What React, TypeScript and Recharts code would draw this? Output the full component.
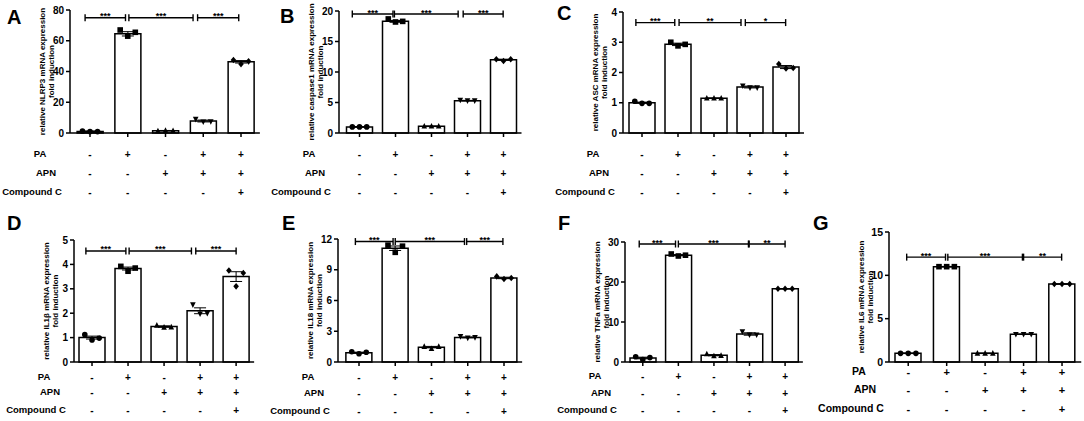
import React from "react";
import { Bar, ComposedChart, ErrorBar, Scatter, XAxis, YAxis } from "recharts";

// treatment grid under every panel
const groups = ["ctrl", "PA", "APN", "PA+APN", "PA+APN+CC"];
const paRow = ["-", "+", "-", "+", "+"];
const apnRow = ["-", "-", "+", "+", "+"];
const ccRow = ["-", "-", "-", "-", "+"];
const rowNames = ["PA", "APN", "Compound C"];

// A – NLRP3
const nlrp3Mean = [1.0, 64.5, 1.5, 7.8, 46.3];
const nlrp3Sem = [0.3, 1.4, 0.15, 0.6, 0.8];
const nlrp3Reps = [[1.2, 0.9, 0.9], [67, 63, 65.5], [1.3, 1.6, 1.5], [9.0, 7.3, 7.5], [47.5, 44.8, 46.6]];
// B – caspase1
const casp1Mean = [1.0, 18.3, 1.1, 5.3, 12.0];
const casp1Sem = [0.05, 0.15, 0.05, 0.05, 0.1];
const casp1Reps = [[1.0, 1.0, 1.0], [18.7, 18.2, 18.3], [1.1, 1.1, 1.1], [5.4, 5.3, 5.3], [12.1, 11.8, 12.1]];
// C – ASC
const ascMean = [1.0, 2.93, 1.15, 1.52, 2.18];
const ascSem = [0.02, 0.04, 0.01, 0.03, 0.05];
const ascReps = [[1.05, 0.98, 0.98], [3.0, 2.88, 2.93], [1.15, 1.15, 1.15], [1.56, 1.5, 1.5], [2.28, 2.13, 2.15]];
// D – IL1β
const il1bMean = [1.0, 3.83, 1.45, 2.1, 3.5];
const il1bSem = [0.06, 0.06, 0.03, 0.12, 0.2];
const il1bReps = [[1.12, 0.9, 0.98], [3.92, 3.72, 3.85], [1.5, 1.42, 1.43], [2.35, 1.98, 2.0], [3.75, 3.1, 3.65]];
// E – IL18
const il18Mean = [0.9, 11.1, 1.45, 2.4, 8.2];
const il18Sem = [0.06, 0.22, 0.07, 0.04, 0.07];
const il18Reps = [[1.0, 0.8, 0.95], [11.4, 10.7, 11.3], [1.5, 1.3, 1.5], [2.5, 2.35, 2.4], [8.35, 8.1, 8.2]];
// F – TNFa
const tnfMean = [1.0, 26.7, 1.7, 7.0, 18.3];
const tnfSem = [0.2, 0.15, 0.15, 0.3, 0.05];
const tnfReps = [[1.3, 0.6, 1.1], [27.0, 26.5, 26.7], [2.0, 1.5, 1.6], [7.6, 6.8, 6.8], [18.3, 18.3, 18.3]];
// G – IL6
const il6Mean = [1.0, 11.0, 1.0, 3.2, 9.0];
const il6Sem = [0.03, 0.03, 0.03, 0.03, 0.03];
const il6Reps = [[1.0, 1.0, 1.0], [11.0, 11.0, 11.0], [1.0, 1.0, 1.0], [3.2, 3.2, 3.2], [9.0, 9.0, 9.0]];

const FONT = 'Arial, "Liberation Sans", Helvetica, sans-serif';
const jitter = [-0.2, 0, 0.2];

type Panel = {
  letter: string;
  gene: string;
  mean: number[];
  sem: number[];
  reps: number[][];
  yMax: number;
  yTicks: number[];
  stars: string[];
  bracketY: number;
  brackets: number[][];
  // layout (page px)
  left: number;
  top: number;
  w: number;
  h: number;
  axisX: number;
  first: number;
  last: number;
  topY: number;
  zeroY: number;
  rows: number[];
  rowFont: number;
  tickFont: number;
  letterY: number;
  letterX: number;
};

const panels: Panel[] = [
  {
    letter: "A", gene: "NLRP3", mean: nlrp3Mean, sem: nlrp3Sem, reps: nlrp3Reps,
    yMax: 80, yTicks: [0, 20, 40, 60, 80], stars: ["***", "***", "***"], bracketY: 75,
    brackets: [[-0.13, 0.94], [1.03, 2.73], [2.85, 3.94]],
    left: 0, top: 0, w: 270, h: 210, axisX: 70, first: 90, last: 241, topY: 10, zeroY: 133,
    rows: [21, 40, 59], rowFont: 10, tickFont: 10, letterX: 7, letterY: 24,
  },
  {
    letter: "B", gene: "caspase1", mean: casp1Mean, sem: casp1Sem, reps: casp1Reps,
    yMax: 20, yTicks: [0, 5, 10, 15, 20], stars: ["***", "***", "***"], bracketY: 19.5,
    brackets: [[-0.2, 0.93], [0.97, 2.74], [2.88, 3.99]],
    left: 270, top: 0, w: 270, h: 210, axisX: 339, first: 359.5, last: 503.5, topY: 11, zeroY: 133,
    rows: [21, 40, 59], rowFont: 10, tickFont: 10, letterX: 280, letterY: 23,
  },
  {
    letter: "C", gene: "ASC", mean: ascMean, sem: ascSem, reps: ascReps,
    yMax: 4, yTicks: [0, 1, 2, 3, 4], stars: ["***", "**", "*"], bracketY: 3.65,
    brackets: [[-0.17, 0.91], [1.03, 2.75], [2.87, 3.99]],
    left: 540, top: 0, w: 270, h: 210, axisX: 623, first: 642, last: 786, topY: 12, zeroY: 133,
    rows: [21, 40, 59], rowFont: 10, tickFont: 10, letterX: 557, letterY: 20,
  },
  {
    letter: "D", gene: "IL1β", mean: il1bMean, sem: il1bSem, reps: il1bReps,
    yMax: 5, yTicks: [0, 1, 2, 3, 4, 5], stars: ["***", "***", "***"], bracketY: 4.55,
    brackets: [[-0.17, 0.94], [1.03, 2.76], [2.88, 4.0]],
    left: 0, top: 210, w: 270, h: 211, axisX: 74, first: 91, last: 236, topY: 240, zeroY: 362,
    rows: [15, 30, 48], rowFont: 10, tickFont: 10, letterX: 7, letterY: 230,
  },
  {
    letter: "E", gene: "IL18", mean: il18Mean, sem: il18Sem, reps: il18Reps,
    yMax: 12, yTicks: [0, 3, 6, 9, 12], stars: ["***", "***", "***"], bracketY: 11.75,
    brackets: [[-0.1, 0.94], [1.0, 2.91], [2.97, 3.97]],
    left: 270, top: 210, w: 270, h: 211, axisX: 338, first: 359, last: 504, topY: 239, zeroY: 362,
    rows: [15, 31, 49], rowFont: 10, tickFont: 10, letterX: 282, letterY: 230,
  },
  {
    letter: "F", gene: "TNFa", mean: tnfMean, sem: tnfSem, reps: tnfReps,
    yMax: 30, yTicks: [0, 10, 20, 30], stars: ["***", "***", "**"], bracketY: 29.5,
    brackets: [[-0.1, 0.92], [1.0, 2.97], [2.99, 4.0]],
    left: 540, top: 210, w: 270, h: 211, axisX: 625, first: 642, last: 785, topY: 242, zeroY: 362,
    rows: [14, 31, 48], rowFont: 10, tickFont: 10, letterX: 558, letterY: 230,
  },
  {
    letter: "G", gene: "IL6", mean: il6Mean, sem: il6Sem, reps: il6Reps,
    yMax: 15, yTicks: [0, 5, 10, 15], stars: ["***", "***", "**"], bracketY: 12.1,
    brackets: [[-0.04, 0.97], [1.03, 2.97], [3.0, 3.99]],
    left: 810, top: 210, w: 274, h: 211, axisX: 889, first: 908, last: 1062, topY: 232, zeroY: 362,
    rows: [10, 28, 47], rowFont: 11, tickFont: 10.5, letterX: 813, letterY: 230,
  },
];

const Marker = (props: any) => {
  const { cx, cy, payload } = props;
  const s = 2.8;
  switch (payload.g) {
    case 0:
      return <circle cx={cx} cy={cy} r={s} fill="#000" />;
    case 1:
      return <rect x={cx - s} y={cy - s} width={2 * s} height={2 * s} fill="#000" />;
    case 2:
      return <polygon points={`${cx},${cy - s - 0.5} ${cx - s},${cy + s - 0.5} ${cx + s},${cy + s - 0.5}`} fill="#000" />;
    case 3:
      return <polygon points={`${cx},${cy + s + 0.5} ${cx - s},${cy - s + 0.5} ${cx + s},${cy - s + 0.5}`} fill="#000" />;
    default:
      return <polygon points={`${cx},${cy - s - 0.5} ${cx + s},${cy} ${cx},${cy + s + 0.5} ${cx - s},${cy}`} fill="#000" />;
  }
};

const BracketMark = (props: any) => {
  const { cx, cy, payload } = props;
  if (payload.label) {
    return (
      <text x={cx} y={cy + 1.5} textAnchor="middle" fontSize={9} fontWeight="bold" fontFamily={FONT} fill="#000">
        {payload.label}
      </text>
    );
  }
  return <line x1={cx} x2={cx} y1={cy - 3.5} y2={cy + 3.5} stroke="#000" strokeWidth={1.4} />;
};

function PanelChart({ p }: { p: Panel }) {
  const band = (p.last - p.first) / 4;
  const plotStart = p.first - band / 2;
  const plotEnd = p.last + band / 2;
  const yAxisW = 24;
  const padL = Math.max(0, plotStart - p.axisX);
  const margin = {
    top: p.topY - p.top,
    left: p.axisX - p.left - yAxisW,
    right: p.left + p.w - plotEnd,
    bottom: 0,
  };
  const xAxisH = p.top + p.h - p.zeroY;

  const barData = groups.map((g, i) => ({ name: g, mean: p.mean[i], err: p.sem[i] }));
  const dots = p.reps.flatMap((r, i) => r.map((v, j) => ({ x: i + jitter[j], y: v, g: i })));
  const rowsVals = [paRow, apnRow, ccRow];
  const nameOffsets = [-30, -24, -38];
  const axisLocalX = p.axisX - p.left;

  const Tick = (props: any) => {
    const { x, y, index } = props;
    return (
      <g fontFamily={FONT} fontWeight="bold" fill="#000">
        {rowsVals.map((r, k) => (
          <text key={k} x={x} y={y + p.rows[k] - 4 + 3.5} textAnchor="middle" fontSize={p.rowFont}>
            {r[index]}
          </text>
        ))}
        {index === 0 &&
          rowNames.map((n, k) => (
            <text key={n} x={axisLocalX + nameOffsets[k]} y={y + p.rows[k] - 4 + 3.2} textAnchor="middle" fontSize={p.rowFont - 0.5}>
              {n}
            </text>
          ))}
      </g>
    );
  };

  const YLabel = (props: any) => {
    const vb = props.viewBox;
    const ax = vb.x + vb.width;
    const cy = vb.y + vb.height / 2;
    const bx = ax - 25;
    return (
      <text transform={`rotate(-90, ${bx}, ${cy})`} x={bx} y={cy} textAnchor="middle" fontSize={8} fontWeight="bold" fontFamily={FONT} fill="#000">
        <tspan x={bx} dy={0}>{`relative ${p.gene} mRNA expression`}</tspan>
        <tspan x={bx} dy={8.5}>fold induction</tspan>
      </text>
    );
  };

  return (
    <div style={{ position: "absolute", left: p.left, top: p.top }}>
      <ComposedChart width={p.w} height={p.h} data={barData} margin={margin}>
        <XAxis
          dataKey="name"
          xAxisId="cat"
          height={xAxisH}
          padding={{ left: padL, right: 0 }}
          axisLine={{ stroke: "#000", strokeWidth: 1.5 }}
          tickLine={{ stroke: "#000", strokeWidth: 1.5 }}
          tickSize={4}
          tickMargin={0}
          interval={0}
          tick={<Tick />}
        />
        <XAxis xAxisId="num" type="number" dataKey="x" domain={[-0.5, 4.5]} padding={{ left: padL, right: 0 }} hide />
        <YAxis
          width={yAxisW}
          domain={[0, p.yMax]}
          ticks={p.yTicks}
          interval={0}
          axisLine={{ stroke: "#000", strokeWidth: 1.5 }}
          tickLine={{ stroke: "#000", strokeWidth: 1.5 }}
          tickSize={4}
          tickMargin={2}
          tick={{ fill: "#000", fontSize: p.tickFont, fontWeight: "bold", fontFamily: FONT }}
          label={{ content: <YLabel /> }}
        />
        <Bar dataKey="mean" xAxisId="cat" barSize={26} fill="#fff" stroke="#000" strokeWidth={1.5} isAnimationActive={false}>
          <ErrorBar dataKey="err" direction="y" width={6} stroke="#000" strokeWidth={1} />
        </Bar>
        <Scatter data={dots} xAxisId="num" dataKey="y" shape={<Marker />} isAnimationActive={false} />
        {p.brackets.map((b, k) => (
          <Scatter
            key={k}
            xAxisId="num"
            dataKey="y"
            data={[
              { x: b[0], y: p.bracketY },
              { x: (b[0] + b[1]) / 2, y: p.bracketY, label: p.stars[k] },
              { x: b[1], y: p.bracketY },
            ]}
            line={{ stroke: "#000", strokeWidth: 1.4 }}
            shape={<BracketMark />}
            isAnimationActive={false}
          />
        ))}
      </ComposedChart>
    </div>
  );
}

export default function App() {
  return (
    <div style={{ position: "absolute", left: 0, top: 0, width: 1084, height: 421, background: "#fff" }}>
      {panels.map((p) => (
        <PanelChart key={p.letter} p={p} />
      ))}
      <svg width={1084} height={421} style={{ position: "absolute", left: 0, top: 0, pointerEvents: "none" }}>
        {panels.map((p) => (
          <text key={p.letter} x={p.letterX} y={p.letterY} fontSize={20} fontWeight="bold" fontFamily={FONT} fill="#000">
            {p.letter}
          </text>
        ))}
      </svg>
    </div>
  );
}
